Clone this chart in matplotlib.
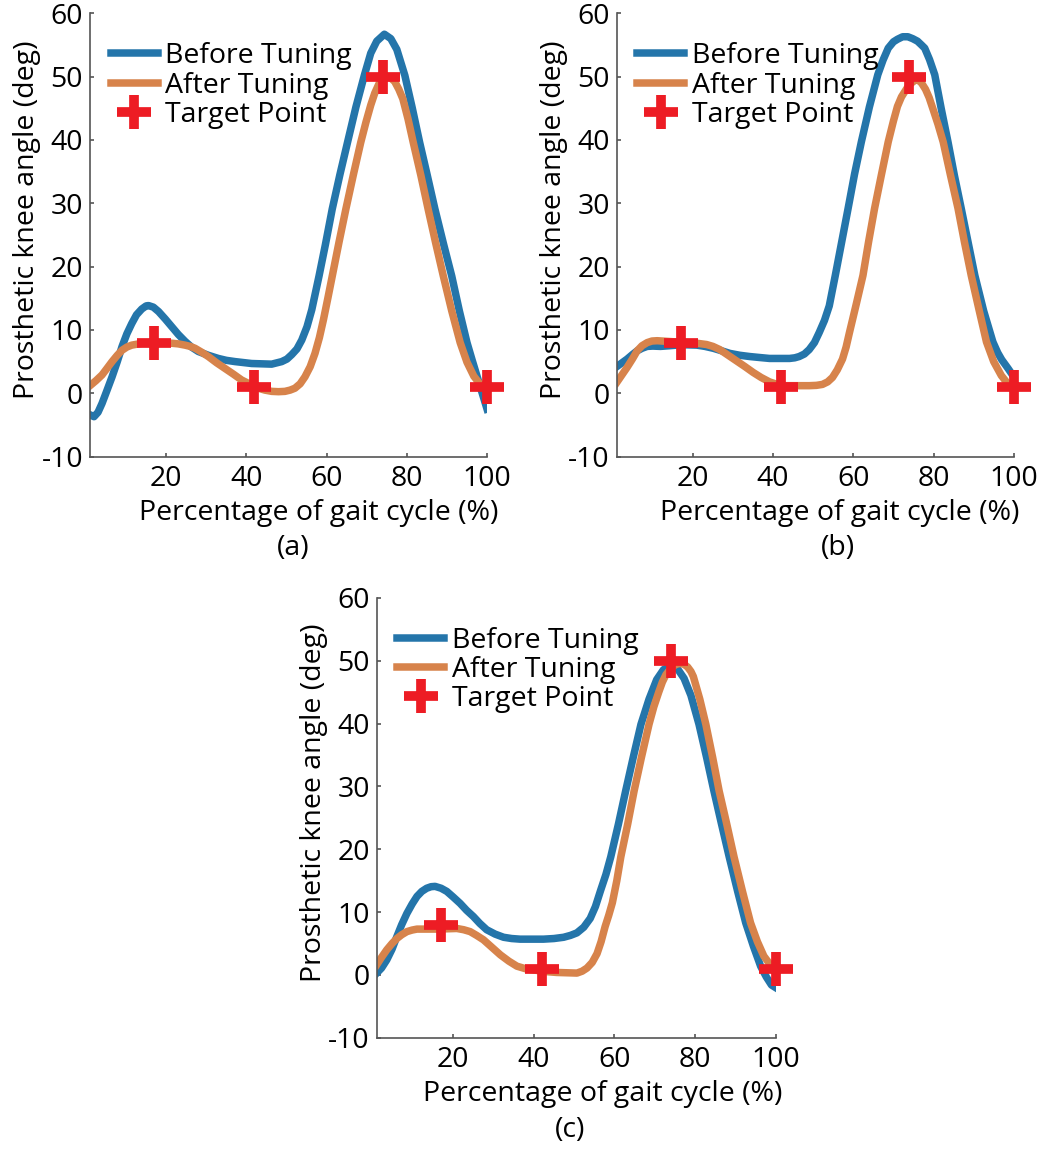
import matplotlib
matplotlib.use("Agg")
import matplotlib.pyplot as plt

plt.rcParams['font.family'] = ['Open Sans', 'DejaVu Sans']
plt.rcParams['axes.unicode_minus'] = False

# knee angle over the gait cycle, before and after tuning, for three cases
a_before_x = [1, 2, 3, 4, 5.2, 6.5, 7.8, 9, 10.2, 11.4, 12.6, 13.9, 15, 15.6, 16.8, 18.1, 19.8, 21.4,
              23, 24.7, 26.3, 28, 30.5, 33, 35, 37.2, 41.3, 46.3, 48.8, 50.1, 51.3, 52.6, 53.8, 55.1,
              56.3, 58.1, 59.7, 61.4, 63.3, 65.2, 67.3, 69.4, 71, 72.5, 74.4, 76, 77.5, 79.5, 81.3,
              83.2, 85.1, 87, 89.1, 91.2, 93.1, 95, 96.3, 97.5, 98.8, 100]
a_before_y = [-3.4, -3.7, -3.0, -1.6, 0.4, 2.6, 5.0, 7.4, 9.4, 11.0, 12.4, 13.3, 13.8, 13.85, 13.6, 12.9,
              11.7, 10.5, 9.3, 8.2, 7.3, 6.6, 6.0, 5.5, 5.2, 5.0, 4.7, 4.6, 5.0, 5.4, 6.1, 7.0, 8.4, 10.5,
              13.2, 18.5, 23.5, 29.1, 34.5, 39.6, 45.2, 50.2, 53.7, 55.6, 56.7, 56.0, 54.3, 50.2, 45.2,
              39.6, 34.4, 29.1, 23.7, 18.5, 13.0, 8.0, 5.2, 2.7, 0.0, -2.5]
a_after_x = [1, 2.5, 4, 5.2, 6.5, 7.8, 9, 10.2, 11.4, 14, 16.4, 21.4, 23, 24.7, 26, 27.2, 28.8, 30.5,
             32.6, 34.7, 36.8, 38.8, 41, 43, 44.6, 46.3, 48, 49.6, 50.9, 52.1, 53.4, 54.6, 55.9, 57.1,
             58.2, 59.2, 60.3, 61.4, 63.1, 64.8, 66.7, 68.5, 69.8, 71, 72, 73, 74, 75, 76, 77, 78, 79,
             80.3, 81.6, 83.5, 85.3, 87.2, 89.1, 91.2, 93.3, 95, 96.7, 98.3, 100]
a_after_y = [1.2, 2.0, 2.9, 3.9, 5.0, 6.0, 6.8, 7.3, 7.6, 7.9, 7.95, 7.9, 7.8, 7.6, 7.4, 7.1, 6.5, 5.8,
             4.8, 3.9, 3.0, 2.1, 1.4, 0.8, 0.5, 0.3, 0.25, 0.3, 0.5, 0.8, 1.5, 2.6, 4.2, 6.3,
             8.8, 11.6, 15.0, 18.5, 23.9, 29.1, 34.6, 39.6, 42.8, 45.5, 47.4, 48.8, 49.6, 50.0, 49.8,
             49.2, 48.0, 46.5, 43.3, 39.6, 34.4, 29.1, 23.7, 18.5, 13.0, 8.0, 4.9, 2.7, 1.4, 0.9]

b_before_x = [1, 2.3, 3.6, 4.9, 6.1, 7.3, 8.6, 10, 11.9, 14, 16, 18.5, 21, 23, 25.1, 27.2, 29.2, 31.7,
              34.2, 36.6, 39.1, 44.1, 45.4, 46.5, 47.8, 49, 50.3, 51.5, 52.8, 54, 55.5, 57.1, 58.7,
              60.3, 62, 64, 66.1, 67.4, 68.7, 70, 71, 72.3, 73.6, 74.8, 76, 77, 77.8, 79, 80.3, 81.9,
              83.6, 85.2, 86.9, 88.6, 90.3, 92.5, 94.8, 96, 97, 98.6, 100]
b_before_y = [4.2, 4.8, 5.4, 6.1, 6.7, 7.1, 7.4, 7.45, 7.4, 7.5, 7.6, 7.65, 7.6, 7.4, 7.1, 6.7, 6.3, 6.0,
              5.8, 5.65, 5.5, 5.5, 5.6, 5.8, 6.2, 6.9, 8.0, 9.6, 11.5, 13.8, 18.6, 23.9, 29.2,
              34.6, 39.7, 45.2, 50.3, 52.6, 54.5, 55.5, 55.9, 56.3, 56.3, 56.0, 55.6, 55.0, 54.5, 52.7,
              50.3, 45.0, 39.7, 34.4, 29.2, 23.9, 18.6, 13.0, 8.1, 6.4, 5.3, 3.9, 2.6]
b_after_x = [1, 2.3, 3.6, 4.9, 6.1, 7.3, 8.6, 9.8, 11.1, 13.5, 16, 18.5, 21, 23.4, 25, 26.7, 28.8, 30.9,
             33, 35, 37, 39.1, 41, 43.2, 49, 50.8, 52.3, 53.6, 54.8, 56, 57.3, 58.2, 59, 60.7, 62.4,
             63.8, 65.3, 67, 68.7, 70, 71, 72, 72.8, 73.6, 74.5, 75.3, 76.1, 77, 78, 78.9, 79.8, 81.1,
             82.4, 84.2, 86.1, 87.7, 89.4, 91.3, 93.2, 95, 96.9, 98.4, 100]
b_after_y = [1.7, 2.9, 4.1, 5.4, 6.7, 7.5, 8.0, 8.25, 8.3, 8.2, 8.1, 8.0, 7.9, 7.7, 7.4, 6.9, 6.0, 5.1,
             4.2, 3.3, 2.5, 1.8, 1.4, 1.2, 1.2, 1.25, 1.4, 1.8, 2.5, 3.7, 5.4, 7.3, 9.5, 14.0, 18.6,
             23.9, 29.2, 34.5, 39.7, 43.0, 45.3, 46.8, 47.6, 48.4, 49.0, 49.4, 49.5, 49.0, 48.0, 46.7,
             45.0, 42.5, 39.7, 34.5, 29.2, 23.9, 18.6, 13.3, 8.1, 5.0, 2.8, 1.6, 1.0]

c_before_x = [1, 2.2, 3.5, 4.8, 6, 7.2, 8.5, 9.8, 11, 12.2, 13.4, 14.5, 15.5, 17, 18.4, 20, 21.7, 23.3,
              25, 26.6, 28.3, 30.4, 32.5, 34.5, 36.6, 42.4, 45, 47.4, 49.1, 50.7, 52.4, 54, 55.3, 56.6,
              57.9, 59.1, 61, 62.8, 64.7, 66.6, 68.6, 70.5, 72.2, 74, 75.6, 77.3, 79, 81, 82.9, 84.7,
              86.6, 88.5, 90.6, 92.6, 94.5, 96.3, 97.7, 99, 100]
c_before_y = [0.3, 1.1, 2.4, 4.1, 6.1, 8.0, 9.8, 11.3, 12.5, 13.3, 13.8, 14.05, 14.1, 13.8, 13.3, 12.4,
              11.4, 10.3, 9.3, 8.2, 7.2, 6.5, 6.0, 5.8, 5.7, 5.7, 5.8, 6.0, 6.3, 6.7, 7.6, 9.0, 10.9,
              13.5, 16.0, 18.8, 24.0, 29.3, 34.7, 39.9, 43.9, 47.0, 48.6, 49.2, 48.8, 47.2, 44.5, 39.9,
              34.6, 29.3, 24.0, 18.8, 13.3, 8.3, 4.6, 1.4, -0.3, -1.6, -2.0]
c_after_x = [1, 2.2, 3.5, 4.8, 6, 7.2, 8.5, 9.8, 11, 16, 20.9, 22.6, 24.2, 25.8, 27.5, 29.6, 31.7, 33.8,
             35.8, 37.9, 39.9, 42.8, 45.7, 50.7, 52, 53.2, 54.5, 55.7, 56.7, 57.7, 58.6, 59.5, 60.6,
             61.6, 63.3, 64.9, 66.7, 68.6, 69.8, 71, 71.9, 72.8, 73.8, 74.7, 75.6, 76.5, 77.4, 78.2,
             79, 79.6, 81.2, 82.7, 84.4, 86, 87.9, 89.7, 91.8, 93.8, 95.5, 97.1, 98.5, 100]
c_after_y = [1.6, 2.8, 4.0, 5.0, 5.8, 6.4, 6.9, 7.15, 7.3, 7.3, 7.4, 7.2, 6.9, 6.3, 5.6, 4.4, 3.2, 2.2,
             1.4, 1.0, 0.8, 0.55, 0.4, 0.3, 0.6, 1.1, 2.0, 3.4, 5.3, 7.7, 9.5, 11.5, 15.0,
             18.8, 24.0, 29.3, 34.6, 39.9, 42.7, 45.0, 46.6, 47.8, 48.6, 49.2, 49.5, 49.6, 49.4, 49.0,
             48.3, 47.5, 43.9, 39.9, 34.6, 29.3, 24.0, 18.8, 13.3, 8.3, 5.3, 3.0, 1.8, 1.2]

# desired knee angles at key gait events
target_x = [17, 42, 74, 100]
target_y = [8, 1, 50, 1]

x_ticks = [20, 40, 60, 80, 100]
y_ticks = [-10, 0, 10, 20, 30, 40, 50, 60]

BLUE = '#2475AA'
ORANGE = '#D7834B'
RED = '#ED1C24'
AXIS = '#555555'
FS = 20.5


def draw_panel(ax, bx, by, ax_, ay, xlabel_pos):
    ax.plot(bx, by, color=BLUE, lw=5.4, solid_joinstyle='round', label='Before Tuning')
    ax.plot(ax_, ay, color=ORANGE, lw=5.4, solid_joinstyle='round', label='After Tuning')
    ax.plot(target_x, target_y, ls='none', marker='+', ms=24, mew=7, color=RED,
            label='Target Point', clip_on=False, zorder=5)

    ax.set_xlim(1, 100)
    ax.set_ylim(-10, 60)
    ax.set_xticks(x_ticks)
    ax.set_yticks(y_ticks)
    for side in ['top', 'right']:
        ax.spines[side].set_visible(False)
    for side in ['left', 'bottom']:
        ax.spines[side].set_color(AXIS)
        ax.spines[side].set_linewidth(1.2)
    ax.tick_params(direction='in', length=3, width=1.2, color=AXIS, labelsize=FS)
    ax.tick_params(axis='x', pad=6)
    ax.tick_params(axis='y', pad=5)

    ax.set_xlabel('Percentage of gait cycle (%)', fontsize=FS)
    ax.set_ylabel('Prosthetic knee angle (deg)', fontsize=FS)
    ax.xaxis.set_label_coords(xlabel_pos, -0.096)
    ax.yaxis.set_label_coords(-0.123, 0.534)

    ax.legend(loc='upper left', bbox_to_anchor=(0.052, 0.935), frameon=False, fontsize=FS,
              borderpad=0, borderaxespad=0, handlelength=1.65, handletextpad=0.27,
              labelspacing=0.05)


fig = plt.figure(figsize=(10.49, 11.58), dpi=100)
ax_a = fig.add_axes([0.0858, 0.6057, 0.3785, 0.3828])
ax_b = fig.add_axes([0.5879, 0.6057, 0.3785, 0.3828])
ax_c = fig.add_axes([0.3591, 0.1038, 0.3802, 0.3798])

draw_panel(ax_a, a_before_x, a_before_y, a_after_x, a_after_y, 0.577)
draw_panel(ax_b, b_before_x, b_before_y, b_after_x, b_after_y, 0.561)
draw_panel(ax_c, c_before_x, c_before_y, c_after_x, c_after_y, 0.566)

fig.text(293 / 1049, 1 - 548 / 1158, '(a)', fontsize=FS, ha='center', va='center')
fig.text(838 / 1049, 1 - 548 / 1158, '(b)', fontsize=FS, ha='center', va='center')
fig.text(570 / 1049, 1 - 1130 / 1158, '(c)', fontsize=FS, ha='center', va='center')

fig.savefig('out.png', dpi=100)
